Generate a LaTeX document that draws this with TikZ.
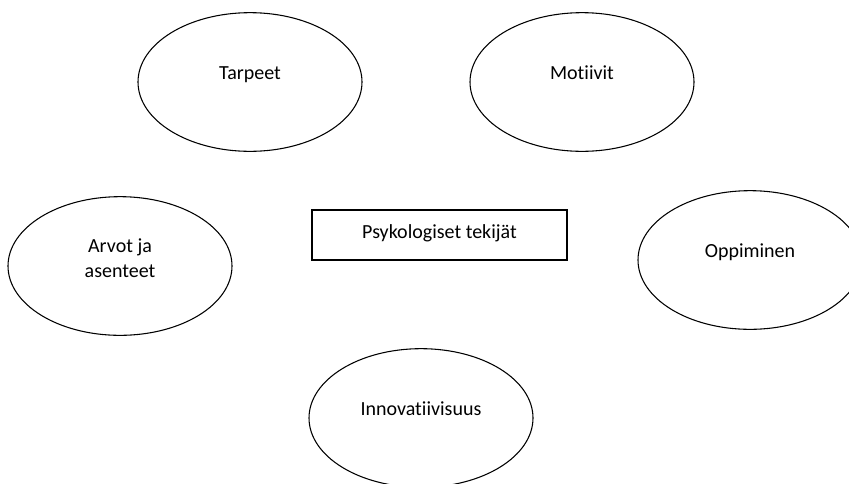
\documentclass[tikz,border=0pt]{standalone}
\usepackage{fontspec}
\setmainfont{Carlito}[Ligatures=NoCommon]
\usepackage{tikz}
\usetikzlibrary{shapes.geometric,positioning}

\begin{document}
\begin{tikzpicture}[
      x=0.75pt, y=-0.75pt,
      bubble/.style={draw, ellipse, line width=0.8pt,
                  minimum width=168pt, minimum height=104pt,
                  inner sep=0pt, font=\fontsize{15}{18.75}\selectfont, align=center,
                  text height=0pt, text depth=4.5pt},
      core/.style={draw, line width=1.6pt,
                  minimum width=191pt, minimum height=37.5pt,
                  inner sep=0pt, font=\fontsize{15}{18.75}\selectfont,
                  text height=4.5pt, text depth=0pt}
  ]
    \useasboundingbox (0,0) rectangle (849,483);
    \node[bubble] (tarpeet) at (250,82) {Tarpeet};
    \node[bubble] (motiivit) at (582,82) {Motiivit};
    \node[bubble, text height=16.5pt, text depth=0pt] (arvot) at (120,266) {Arvot ja\\asenteet};
    \node[core] (psyk) at (439.5,235) {Psykologiset tekijät};
    \node[bubble] (oppiminen) at (750,260) {Oppiminen};
    \node[bubble] (innov) at (421,418) {Innovatiivisuus};
  \end{tikzpicture}
\end{document}
